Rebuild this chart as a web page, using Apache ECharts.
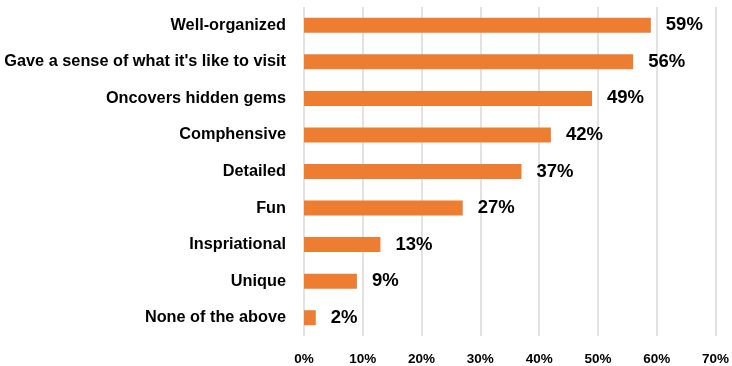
<!DOCTYPE html>
<html>
<head>
<meta charset="utf-8">
<script src="https://cdn.jsdelivr.net/npm/echarts@6/dist/echarts.min.js"></script>
<style>
  html, body { margin: 0; padding: 0; background: #fff; }
  #chart { width: 732px; height: 366px; }
</style>
</head>
<body>
<div id="chart"></div>
<script>
// Survey responses, listed top to bottom
const categories = [
  'Well-organized',
  "Gave a sense of what it's like to visit",
  'Oncovers hidden gems',
  'Comphensive',
  'Detailed',
  'Fun',
  'Inspriational',
  'Unique',
  'None of the above'
];
const values = [59, 56, 49, 42, 37, 27, 13, 9, 2];
const axisTicks = [0, 10, 20, 30, 40, 50, 60, 70];

const FONT = '"Liberation Sans", Arial, sans-serif';

const chart = echarts.init(document.getElementById('chart'), null, { renderer: 'canvas' });
chart.setOption({
  animation: false,
  backgroundColor: '#ffffff',
  grid: { left: 304, right: 16, top: 7, bottom: 27, containLabel: false },
  xAxis: {
    type: 'value',
    min: axisTicks[0],
    max: axisTicks[axisTicks.length - 1],
    interval: 10,
    axisLine: { show: false },
    axisTick: { show: false },
    splitLine: { show: true, lineStyle: { color: '#d9d9d9', width: 1.5 } },
    axisLabel: {
      formatter: v => v + '%',
      color: '#000',
      fontFamily: FONT,
      fontWeight: 'bold',
      fontSize: 13.5,
      margin: 16
    }
  },
  yAxis: {
    type: 'category',
    inverse: true,
    data: categories,
    axisLine: { show: false },
    axisTick: { show: false },
    axisLabel: {
      color: '#000',
      fontFamily: FONT,
      fontWeight: 'bold',
      fontSize: 16.3,
      margin: 18
    }
  },
  series: [{
    type: 'bar',
    data: values,
    barWidth: 15,
    itemStyle: { color: '#ED7D31' },
    label: {
      show: true,
      position: 'right',
      distance: 15,
      formatter: p => p.value + '%',
      color: '#000',
      fontFamily: FONT,
      fontWeight: 'bold',
      fontSize: 18.5
    }
  }]
});
</script>
</body>
</html>
